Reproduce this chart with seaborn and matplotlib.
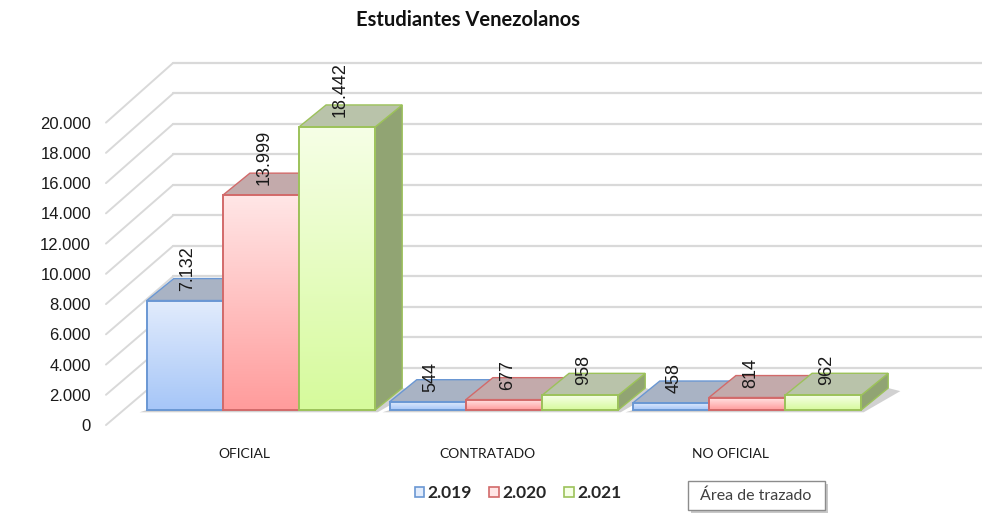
import numpy as np
import pandas as pd
import matplotlib
matplotlib.use("Agg")
import matplotlib.pyplot as plt
import seaborn as sns
from matplotlib.patches import Patch, Polygon, FancyBboxPatch
from matplotlib.colors import LinearSegmentedColormap
from matplotlib.transforms import ScaledTranslation

# data
categorias = ["OFICIAL", "CONTRATADO", "NO OFICIAL"]
anios = ["2.019", "2.020", "2.021"]
v_2019 = [7132, 544, 458]
v_2020 = [13999, 677, 814]
v_2021 = [18442, 958, 962]
y_ticks = list(range(0, 20001, 2000))

# styles per year
front_top = ["#e2ecfc", "#ffe6e6", "#f6ffe6"]
front_bot = ["#a6c6f8", "#ff9c9c", "#d6fa9c"]
edges = ["#6a97d3", "#d26a6a", "#9cc25a"]
top_faces = ["#a9b3c4", "#c3aaab", "#b9c3aa"]
side_faces = ["#8c9fc0", "#b08a8a", "#91a473"]

df = pd.DataFrame({
    "categoria": np.repeat(categorias, 3),
    "anio": anios * 3,
    "valor": [v for trio in zip(v_2019, v_2020, v_2021) for v in trio],
})

sns.set_style("white")
plt.rcParams["font.family"] = ["Liberation Sans", "DejaVu Sans"]

fig = plt.figure(figsize=(9.82, 5.17), dpi=100)
ax = fig.add_axes([105 / 982, 1 - 430 / 517, 877 / 982, 370 / 517])

sns.barplot(data=df, x="categoria", y="valor", hue="anio", hue_order=anios,
            order=categorias, width=0.94, palette=front_bot, legend=False, ax=ax)

xlim = (-0.642, 2.967)
ylim = (-1303, 22800)

# fake 3d geometry (data units)
dx, dy = 0.111, 1430          # bar depth
back_x = -0.362               # x of back wall
def back_level(v):
    return v * 0.9935 + 2736
def front_level(v):
    return v * 0.985 - 980

# back wall gridlines + diagonal lines to the labels
for v in y_ticks:
    ax.plot([back_x, xlim[1]], [back_level(v)] * 2, color="#d9d9d9", lw=1.6, zorder=0)
    ax.plot([xlim[0] + 0.004, back_x], [front_level(v), back_level(v)],
            color="#d9d9d9", lw=1.4, zorder=0)

# collect bars with their year index
bars = []
for i, cont in enumerate(ax.containers):
    for rect in cont:
        bars.append((rect.get_x(), i, rect))
bars.sort(key=lambda b: b[0])

# thin floor shadow under each group
for k in range(len(categorias)):
    grp = [b for b in bars if abs(b[2].get_x() + b[2].get_width() / 2 - k) < 0.5]
    x0 = min(b[2].get_x() for b in grp)
    x1 = max(b[2].get_x() + b[2].get_width() for b in grp)
    ax.add_patch(Polygon([(x0 - 0.03, -150), (x1 + 0.01, -150), (x1 + dx + 0.05, dy - 200),
                          (x1 + dx, dy), (x0, 0)],
                         closed=True, facecolor="#9a9a9a", edgecolor="none",
                         alpha=0.45, zorder=1))

z = 2
for _, i, rect in bars:
    x, w, h = rect.get_x(), rect.get_width(), rect.get_height()
    # side face
    ax.add_patch(Polygon([(x + w, 0), (x + w + dx, dy), (x + w + dx, h + dy), (x + w, h)],
                         closed=True, facecolor=side_faces[i], edgecolor=edges[i],
                         lw=1.0, zorder=z))
    # top face
    ax.add_patch(Polygon([(x, h), (x + dx, h + dy), (x + w + dx, h + dy), (x + w, h)],
                         closed=True, facecolor=top_faces[i], edgecolor=edges[i],
                         lw=1.0, zorder=z + 0.1))
    # front face with vertical gradient
    cmap = LinearSegmentedColormap.from_list("g", [front_bot[i], front_top[i]])
    grad = np.linspace(0, 1, 100).reshape(-1, 1)
    im = ax.imshow(grad, extent=[x, x + w, 0, h], origin="lower", aspect="auto",
                   cmap=cmap, zorder=z + 0.2)
    im.set_clip_path(rect)
    rect.set_facecolor("none")
    rect.set_edgecolor(edges[i])
    rect.set_linewidth(1.4)
    rect.set_zorder(z + 0.3)
    # value label
    ax.text(x + w / 2 + dx * 0.12, h + dy * 0.45, f"{int(h):,}".replace(",", "."),
            rotation=90, ha="center", va="bottom", fontsize=13, color="#1a1a1a",
            zorder=z + 0.5)
    z += 1

ax.set_xlim(*xlim)
ax.set_ylim(*ylim)

# axes text
ax.set_xlabel("")
ax.set_ylabel("")
ax.set_yticks([front_level(v) for v in y_ticks])
ax.set_yticklabels([f"{v:,}".replace(",", ".") for v in y_ticks], fontsize=12,
                   color="#1a1a1a")
ax.set_xticks(range(len(categorias)))
ax.set_xticklabels(categorias, fontsize=10, family=["Lato", "DejaVu Sans"],
                   color="#1a1a1a")
ax.tick_params(axis="y", length=0, pad=10)
ax.tick_params(axis="x", length=0, pad=13)
for lbl in ax.get_xticklabels():
    lbl.set_transform(lbl.get_transform() + ScaledTranslation(-0.17, 0, fig.dpi_scale_trans))
for s in ax.spines.values():
    s.set_visible(False)

fig.text(468 / 982, 1 - 20 / 517, "Estudiantes Venezolanos", ha="center", va="center",
         fontsize=14.5, fontweight="bold", family=["Lato", "DejaVu Sans"], color="#111111")

handles = [Patch(facecolor=front_top[i], edgecolor=edges[i], lw=1.2, label=anios[i])
           for i in range(3)]
fig.legend(handles=handles, loc="center", bbox_to_anchor=(518 / 982, 1 - 493 / 517),
           ncol=3, frameon=False, handlelength=0.55, handleheight=0.55,
           handletextpad=0.2, columnspacing=1.0,
           prop={"family": ["Lato", "DejaVu Sans"], "weight": "bold", "size": 12.5})

# tooltip box seen in the screenshot
shadow = FancyBboxPatch((691 / 982, 1 - 513 / 517), 137 / 982, 29 / 517,
                        boxstyle="square,pad=0", transform=fig.transFigure,
                        facecolor="#c8c8c8", edgecolor="none", zorder=5)
box = FancyBboxPatch((688 / 982, 1 - 510 / 517), 137 / 982, 29 / 517,
                     boxstyle="square,pad=0", transform=fig.transFigure,
                     facecolor="white", edgecolor="#8c8c8c", lw=1.0, zorder=6)
fig.patches.extend([shadow, box])
fig.text(756 / 982, 1 - 496 / 517, "Área de trazado", ha="center", va="center",
         fontsize=11.5, family=["Lato", "DejaVu Sans"], color="#404040", zorder=7)

fig.savefig("out.png", dpi=100)
